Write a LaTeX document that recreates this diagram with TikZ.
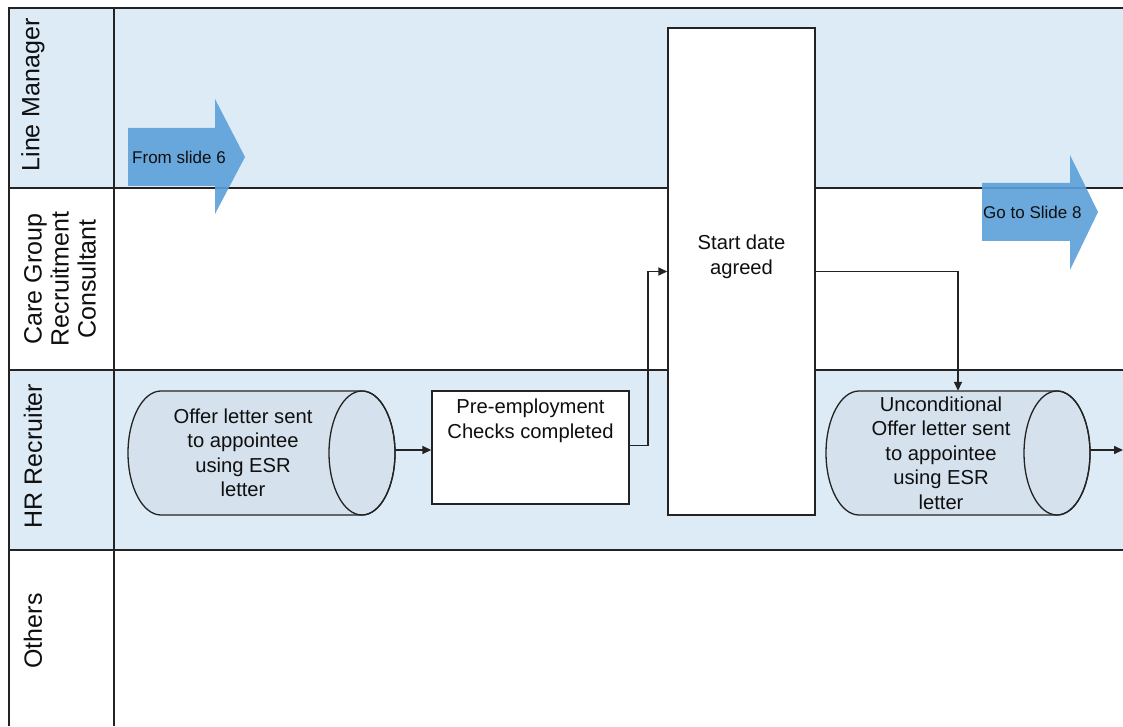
\documentclass[tikz,border=0pt]{standalone}
\usepackage{fontspec}
\setmainfont{Liberation Sans}
\usetikzlibrary{arrows.meta}
\definecolor{laneblue}{RGB}{221,235,247}
\definecolor{cylfill}{RGB}{213,225,236}
\definecolor{arrowblue}{RGB}{91,160,218}
\definecolor{linegrey}{RGB}{35,35,35}
\definecolor{txt}{RGB}{15,15,15}
\tikzset{
  laneline/.style={draw=linegrey, line width=1.7pt},
  lanelabel/.style={rotate=90, font=\fontsize{25}{27}\selectfont, text=txt, align=center, inner sep=0pt},
  boxtext/.style={font=\fontsize{20.2}{24.5}\selectfont, text=txt, align=center, inner sep=0pt},
  arrowtext/.style={font=\fontsize{17}{20}\selectfont, text=txt, inner sep=0pt},
  procbox/.style={draw=linegrey, line width=1.4pt, fill=white, inner sep=0pt},
  shapeline/.style={draw=linegrey, line width=1.3pt},
  flow/.style={draw=linegrey, line width=1.5pt, -{Triangle[length=9pt,width=8pt]}},
  bigarrow/.style={fill=arrowblue, fill opacity=0.9, draw=none},
  ghost/.style={inner sep=0pt, draw=none}
}
\begin{document}
\begin{tikzpicture}[x=1pt,y=1pt]
\useasboundingbox (0,0) rectangle (1123,726);
\fill[white] (0,0) rectangle (1123,726);
% lane fills
\fill[laneblue] (9,718) rectangle (1123,538);
\fill[laneblue] (9,356) rectangle (1123,176);
% lane lines
\draw[laneline] (1123,718) -- (9,718) -- (9,0);
\draw[laneline] (114,718) -- (114,0);
\draw[laneline] (9,538) -- (1123,538);
\draw[laneline] (9,356) -- (1123,356);
\draw[laneline] (9,176) -- (1123,176);
% lane labels
\node[lanelabel] (lm) at (33,631) {Line Manager};
\node[lanelabel] (cg) at (60,447) {Care Group\\Recruitment\\Consultant};
\node[lanelabel] (hr) at (33,270) {HR Recruiter};
\node[lanelabel] (ot) at (33,95) {Others};
% start date box
\node[procbox, minimum width=147pt, minimum height=487pt] (start) at (741.5,454.5) {};
\node[boxtext] (startt) at (741.5,469) {Start date\\agreed};
% pre-employment box
\node[procbox, minimum width=197pt, minimum height=113pt] (pre) at (530.5,278.5) {};
\node[boxtext] (pret) at (530.5,305) {Pre-employment\\Checks completed};
% cylinder 1
\path[shapeline, fill=cylfill] (161,335) arc[start angle=90, end angle=270, x radius=33, y radius=62]
  -- (362,211) arc[start angle=-90, end angle=90, x radius=33, y radius=62] -- cycle;
\draw[shapeline] (362,273) ellipse[x radius=33, y radius=62];
\node[ghost, minimum width=267pt, minimum height=124pt] (cyl1) at (261.5,273) {};
\node[boxtext] (cyl1t) at (243,273) {Offer letter sent\\to appointee\\using ESR\\letter};
% cylinder 2
\path[shapeline, fill=cylfill] (859,335) arc[start angle=90, end angle=270, x radius=33, y radius=62]
  -- (1057,211) arc[start angle=-90, end angle=90, x radius=33, y radius=62] -- cycle;
\draw[shapeline] (1057,273) ellipse[x radius=33, y radius=62];
\node[ghost, minimum width=264pt, minimum height=124pt] (cyl2) at (958,273) {};
\node[boxtext] (cyl2t) at (941,273) {Unconditional\\Offer letter sent\\to appointee\\using ESR\\letter};
% connectors
\coordinate (out) at (1123,276);
\draw[flow] ([yshift=3pt]cyl1.east) -- ([yshift=3pt]cyl1.east -| pre.west);
\draw[flow] ([yshift=2pt]pre.east) -- ++(18.5,0) |- (start.west);
\draw[flow] (start.east) -| (cyl2.north);
\draw[flow] ([yshift=3pt]cyl2.east) -- (out);
% big arrows
\path[bigarrow] (128,598) -- (215,598) -- (215,627) -- (245,569) -- (215,512) -- (215,540) -- (128,540) -- cycle;
\node[arrowtext, anchor=west] (from) at (132,569) {From slide 6};
\path[bigarrow] (982,543) -- (1070,543) -- (1070,571) -- (1098,514) -- (1070,456) -- (1070,485) -- (982,485) -- cycle;
\node[arrowtext, anchor=west] (goto) at (983,514) {Go to Slide 8};
\end{tikzpicture}
\end{document}
